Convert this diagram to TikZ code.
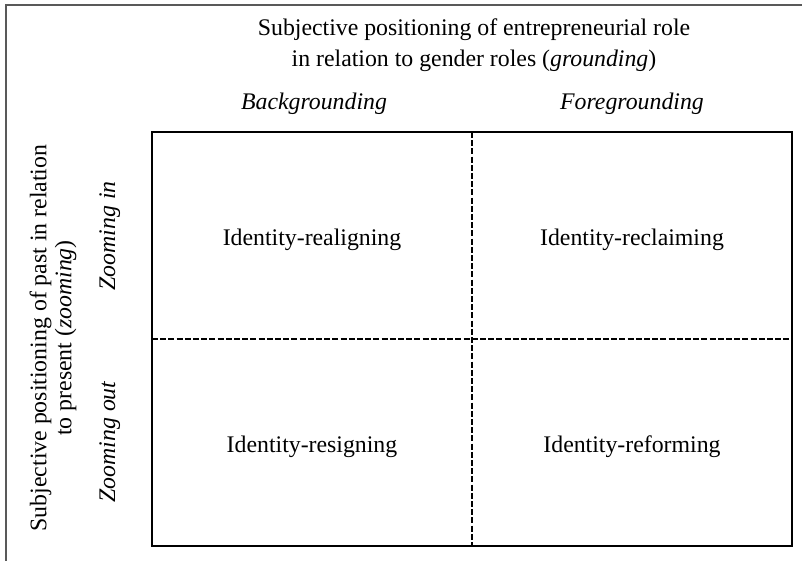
\documentclass[tikz,border=0pt]{standalone}
\usepackage{fontspec}
\setmainfont{Liberation Serif}
\begin{document}
\begin{tikzpicture}[x=1pt,y=-1pt,
  lbl/.style={font=\fontsize{23.8}{31}\selectfont, inner sep=0pt},
  cell/.style={font=\fontsize{23.8}{28}\selectfont, inner sep=0pt, anchor=base},
  head/.style={font=\fontsize{23.8}{28}\selectfont\itshape, inner sep=0pt, anchor=base},
  divider/.style={line width=1.6pt, dash pattern=on 6pt off 2.2pt}]
\useasboundingbox (0,0) rectangle (802,561);
\draw[line width=1.2pt, black!65] (6,561) -- (6,5) -- (802,5);
\coordinate (tl) at (152,132);
\coordinate (br) at (792,546);
\draw[line width=2pt] (tl) rectangle (br);
\coordinate (vt) at (472,132);
\coordinate (vb) at (472,546);
\coordinate (hl) at (152,339);
\coordinate (hr) at (792,339);
\draw[divider] (vt) -- (vb);
\draw[divider] (hl) -- (hr);
\node[lbl, align=center] (title) at (474,45) {Subjective positioning of entrepreneurial role\\in relation to gender roles (\textit{grounding})};
\node[head] (bg) at (314,110) {Backgrounding};
\node[head] (fg) at (632,110) {Foregrounding};
\node[lbl, font=\fontsize{23.8}{25}\selectfont, align=center, rotate=90] (ytitle) at (53,338) {Subjective positioning of past in relation\\to present (\textit{zooming})};
\node[head, rotate=90] (zin) at (115,236) {Zooming in};
\node[head, rotate=90] (zout) at (115,442) {Zooming out};
\node[cell] (c1) at (312,245) {Identity-realigning};
\node[cell] (c2) at (632,245) {Identity-reclaiming};
\node[cell] (c3) at (312,452) {Identity-resigning};
\node[cell] (c4) at (632,452) {Identity-reforming};
\end{tikzpicture}
\end{document}
